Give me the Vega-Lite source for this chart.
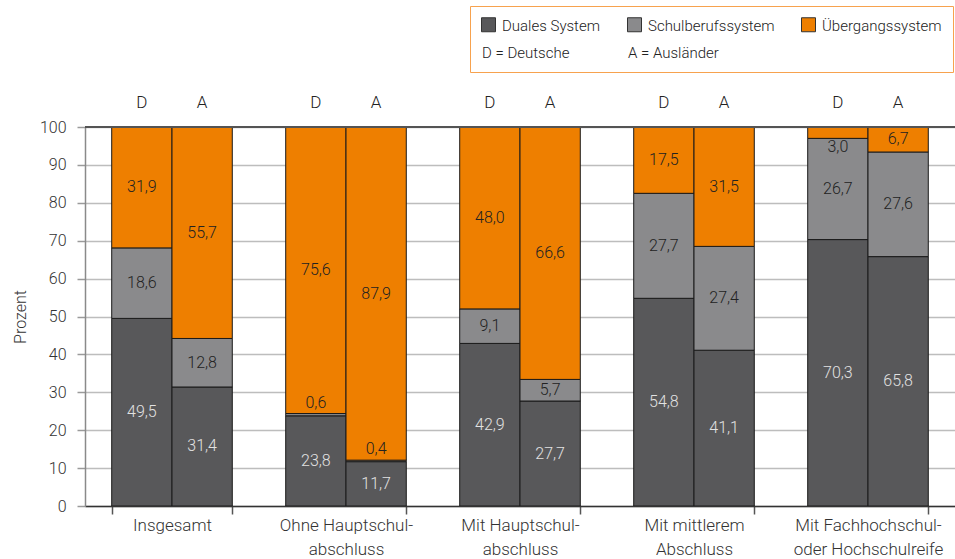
{
  "$schema": "https://vega.github.io/schema/vega-lite/v6.json",
  "autosize": {"type": "none"},
  "width": 870,
  "height": 379,
  "padding": {"left": 85, "top": 127, "right": 0, "bottom": 53},
  "background": "white",
  "config": {
    "locale": {"number": {"decimal": ",", "thousands": ".", "grouping": [3], "currency": ["", " €"]}},
    "font": "Roboto",
    "view": {"stroke": null},
    "axis": {"labelFont": "Roboto", "labelFontWeight": 300, "labelColor": "#333333", "titleFont": "Roboto", "titleFontWeight": 300, "titleFontSize": 16, "titleColor": "#333333"},
    "axisY": {
      "grid": true, "gridColor": "#bdbdbd", "gridWidth": 1.5,
      "domainColor": "#8a8a8a", "domainWidth": 1.5,
      "tickColor": "#9a9a9a", "tickSize": 8, "tickWidth": 1.5,
      "labelFontSize": 16, "labelPadding": 11, "titlePadding": 11, "labelOverlap": false
    },
    "legend": {"labelFont": "Roboto", "labelFontWeight": 300}
  },
  "data": {
    "values": [
      {"group": "Insgesamt", "nat": "D", "system": "Duales System", "value": 49.5},
      {"group": "Insgesamt", "nat": "D", "system": "Schulberufssystem", "value": 18.6},
      {"group": "Insgesamt", "nat": "D", "system": "Übergangssystem", "value": 31.9},
      {"group": "Insgesamt", "nat": "A", "system": "Duales System", "value": 31.4},
      {"group": "Insgesamt", "nat": "A", "system": "Schulberufssystem", "value": 12.8},
      {"group": "Insgesamt", "nat": "A", "system": "Übergangssystem", "value": 55.7},
      {"group": "Ohne Hauptschulabschluss", "nat": "D", "system": "Duales System", "value": 23.8},
      {"group": "Ohne Hauptschulabschluss", "nat": "D", "system": "Schulberufssystem", "value": 0.6},
      {"group": "Ohne Hauptschulabschluss", "nat": "D", "system": "Übergangssystem", "value": 75.6},
      {"group": "Ohne Hauptschulabschluss", "nat": "A", "system": "Duales System", "value": 11.7},
      {"group": "Ohne Hauptschulabschluss", "nat": "A", "system": "Schulberufssystem", "value": 0.4},
      {"group": "Ohne Hauptschulabschluss", "nat": "A", "system": "Übergangssystem", "value": 87.9},
      {"group": "Mit Hauptschulabschluss", "nat": "D", "system": "Duales System", "value": 42.9},
      {"group": "Mit Hauptschulabschluss", "nat": "D", "system": "Schulberufssystem", "value": 9.1},
      {"group": "Mit Hauptschulabschluss", "nat": "D", "system": "Übergangssystem", "value": 48.0},
      {"group": "Mit Hauptschulabschluss", "nat": "A", "system": "Duales System", "value": 27.7},
      {"group": "Mit Hauptschulabschluss", "nat": "A", "system": "Schulberufssystem", "value": 5.7},
      {"group": "Mit Hauptschulabschluss", "nat": "A", "system": "Übergangssystem", "value": 66.6},
      {"group": "Mit mittlerem Abschluss", "nat": "D", "system": "Duales System", "value": 54.8},
      {"group": "Mit mittlerem Abschluss", "nat": "D", "system": "Schulberufssystem", "value": 27.7},
      {"group": "Mit mittlerem Abschluss", "nat": "D", "system": "Übergangssystem", "value": 17.5},
      {"group": "Mit mittlerem Abschluss", "nat": "A", "system": "Duales System", "value": 41.1},
      {"group": "Mit mittlerem Abschluss", "nat": "A", "system": "Schulberufssystem", "value": 27.4},
      {"group": "Mit mittlerem Abschluss", "nat": "A", "system": "Übergangssystem", "value": 31.5},
      {"group": "Mit Fachhochschul- oder Hochschulreife", "nat": "D", "system": "Duales System", "value": 70.3},
      {"group": "Mit Fachhochschul- oder Hochschulreife", "nat": "D", "system": "Schulberufssystem", "value": 26.7},
      {"group": "Mit Fachhochschul- oder Hochschulreife", "nat": "D", "system": "Übergangssystem", "value": 3.0},
      {"group": "Mit Fachhochschul- oder Hochschulreife", "nat": "A", "system": "Duales System", "value": 65.8},
      {"group": "Mit Fachhochschul- oder Hochschulreife", "nat": "A", "system": "Schulberufssystem", "value": 27.6},
      {"group": "Mit Fachhochschul- oder Hochschulreife", "nat": "A", "system": "Übergangssystem", "value": 6.7}
    ]
  },
  "transform": [
    {"stack": "value", "groupby": ["group", "nat"], "sort": [{"field": "system", "order": "ascending"}], "as": ["y0", "y1"]},
    {"calculate": "(datum.y0 + datum.y1) / 2", "as": "ymid"}
  ],
  "encoding": {
    "x": {
      "field": "group", "type": "nominal",
      "sort": ["Insgesamt", "Ohne Hauptschulabschluss", "Mit Hauptschulabschluss", "Mit mittlerem Abschluss", "Mit Fachhochschul- oder Hochschulreife"],
      "scale": {"paddingInner": 0.307, "paddingOuter": 0.1535},
      "axis": {
        "title": null, "labelAngle": 0, "domainColor": "#333333", "domainWidth": 1.5,
        "tickBand": "extent", "tickSize": 8, "tickColor": "#555555", "tickWidth": 1.5,
        "labelFontSize": 17, "labelPadding": 3, "labelLineHeight": 24, "labelBaseline": "top",
        "labelExpr": "datum.value == 'Ohne Hauptschulabschluss' ? ['Ohne Hauptschul-', 'abschluss'] : datum.value == 'Mit Hauptschulabschluss' ? ['Mit Hauptschul-', 'abschluss'] : datum.value == 'Mit mittlerem Abschluss' ? ['Mit mittlerem', 'Abschluss'] : datum.value == 'Mit Fachhochschul- oder Hochschulreife' ? ['Mit Fachhochschul-', 'oder Hochschulreife'] : datum.label"
      }
    },
    "xOffset": {"field": "nat", "type": "nominal", "sort": ["D", "A"], "scale": {"paddingInner": 0, "paddingOuter": 0}}
  },
  "layer": [
    {
      "mark": {"type": "bar", "stroke": "#1a1a1a", "strokeWidth": 1, "clip": true},
      "encoding": {
        "y": {
          "field": "y0", "type": "quantitative",
          "scale": {"domain": [0, 100]},
          "axis": {"title": "Prozent", "values": [0, 10, 20, 30, 40, 50, 60, 70, 80, 90, 100]}
        },
        "y2": {"field": "y1"},
        "color": {
          "field": "system", "type": "nominal",
          "scale": {
            "domain": ["Duales System", "Schulberufssystem", "Übergangssystem", "D = Deutsche", "A = Ausländer"],
            "range": ["#58585a", "#8a8a8c", "#ee7f00", "#ffffff", "#ffffff"]
          },
          "legend": {
            "title": null, "orient": "none", "legendX": 385, "legendY": -121,
            "direction": "horizontal", "columns": 3,
            "symbolType": "square", "symbolSize": 196, "symbolStrokeColor": "#333333", "symbolStrokeWidth": 1,
            "labelFontSize": 15, "labelColor": "#222222", "labelOffset": 6,
            "rowPadding": 10, "columnPadding": 24, "padding": 11,
            "strokeColor": "#f7a24e", "fillColor": "#ffffff",
            "encode": {
              "symbols": {"update": {"opacity": {"signal": "indexof(['D = Deutsche', 'A = Ausländer'], datum.value) >= 0 ? 0 : 1"}}},
              "labels": {"update": {"dx": {"signal": "indexof(['D = Deutsche', 'A = Ausländer'], datum.value) >= 0 ? -20 : 0"}, "dy": {"value": 1}}}
            }
          }
        }
      }
    },
    {
      "mark": {"type": "rule", "color": "#555555", "strokeWidth": 1.5},
      "encoding": {
        "y": {"datum": 100, "type": "quantitative", "axis": {"title": "Prozent", "values": [0, 10, 20, 30, 40, 50, 60, 70, 80, 90, 100]}},
        "x": {"value": 0}, "x2": {"value": 870}, "xOffset": null
      }
    },
    {
      "transform": [{"filter": "datum.value >= 1 && !(datum.system == 'Übergangssystem' && datum.value < 4)"}],
      "mark": {"type": "text", "fontSize": 16, "fontWeight": 300, "font": "Roboto", "baseline": "middle"},
      "encoding": {
        "y": {"field": "ymid", "type": "quantitative", "axis": {"title": "Prozent", "values": [0, 10, 20, 30, 40, 50, 60, 70, 80, 90, 100]}},
        "text": {"field": "value", "type": "quantitative", "format": ".1f"},
        "color": {"condition": {"test": "datum.system == 'Duales System'", "value": "#e2e2e2"}, "value": "#222222"}
      }
    },
    {
      "transform": [{"filter": "datum.value < 1"}],
      "mark": {"type": "text", "fontSize": 16, "fontWeight": 300, "font": "Roboto", "baseline": "middle", "dy": -11, "color": "#222222"},
      "encoding": {
        "y": {"field": "y1", "type": "quantitative", "axis": {"title": "Prozent", "values": [0, 10, 20, 30, 40, 50, 60, 70, 80, 90, 100]}},
        "text": {"field": "value", "type": "quantitative", "format": ".1f"}
      }
    },
    {
      "transform": [{"filter": "datum.system == 'Übergangssystem' && datum.value < 4"}],
      "mark": {"type": "text", "fontSize": 16, "fontWeight": 300, "font": "Roboto", "baseline": "middle", "dy": 9, "color": "#222222"},
      "encoding": {
        "y": {"field": "y0", "type": "quantitative", "axis": {"title": "Prozent", "values": [0, 10, 20, 30, 40, 50, 60, 70, 80, 90, 100]}},
        "text": {"field": "value", "type": "quantitative", "format": ".1f"}
      }
    },
    {
      "transform": [{"filter": "datum.system == 'Duales System'"}],
      "mark": {"type": "text", "fontSize": 17, "fontWeight": 300, "font": "Roboto", "baseline": "middle", "dy": -24, "color": "#222222"},
      "encoding": {
        "y": {"datum": 100, "type": "quantitative", "axis": {"title": "Prozent", "values": [0, 10, 20, 30, 40, 50, 60, 70, 80, 90, 100]}},
        "text": {"field": "nat", "type": "nominal"}
      }
    }
  ]
}
